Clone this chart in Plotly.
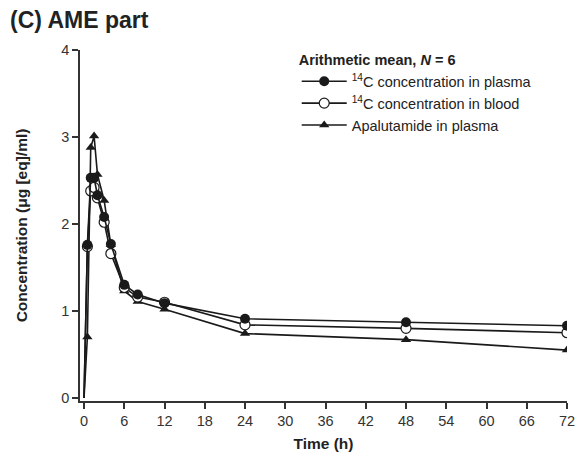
import plotly.graph_objects as go

time_h = [0, 0.5, 1, 1.5, 2, 3, 4, 6, 8, 12, 24, 48, 72]
c14_plasma = [0, 1.76, 2.53, 2.53, 2.33, 2.08, 1.77, 1.30, 1.19, 1.09, 0.91, 0.87, 0.83]
c14_blood = [0, 1.74, 2.38, 2.42, 2.30, 2.02, 1.66, 1.27, 1.16, 1.10, 0.84, 0.80, 0.75]
apalutamide = [0, 0.70, 2.88, 3.01, 2.57, 2.27, 1.76, 1.23, 1.11, 1.02, 0.74, 0.67, 0.55]

x_ticks = list(range(0, 73, 6))
y_ticks = [0, 1, 2, 3, 4]

FONT = "Arial, Liberation Sans, sans-serif"
LINE = dict(color="#1a1a1a", width=1.6)

# markers shown for every sample except the time-zero point
shown = list(range(1, len(time_h)))
hidden_zero = dict(marker=dict(opacity=0))

fig = go.Figure()
fig.add_trace(go.Scatter(
    x=time_h, y=apalutamide, mode="lines+markers", name="Apalutamide in plasma",
    line=LINE, marker=dict(symbol="triangle-up", size=9, color="#1a1a1a"),
    selectedpoints=shown, selected=dict(marker=dict(opacity=1)), unselected=hidden_zero,
))
fig.add_trace(go.Scatter(
    x=time_h, y=c14_blood, mode="lines+markers", name="<sup>14</sup>C concentration in blood",
    line=LINE, marker=dict(symbol="circle", size=10, color="white",
                           line=dict(color="#1a1a1a", width=1.2)),
    selectedpoints=shown, selected=dict(marker=dict(opacity=1)), unselected=hidden_zero,
))
fig.add_trace(go.Scatter(
    x=time_h, y=c14_plasma, mode="lines+markers", name="<sup>14</sup>C concentration in plasma",
    line=LINE, marker=dict(symbol="circle", size=10, color="#1a1a1a"),
    selectedpoints=shown, selected=dict(marker=dict(opacity=1)), unselected=hidden_zero,
))

axis_common = dict(
    showline=True, linecolor="#333333", linewidth=1.6,
    ticks="outside", ticklen=6, tickwidth=1.6, tickcolor="#333333",
    showgrid=False, zeroline=False,
    tickfont=dict(family=FONT, size=14.5, color="#333333"),
)

fig.update_layout(
    width=587, height=466,
    margin=dict(l=80, r=15, t=50, b=65),
    paper_bgcolor="white", plot_bgcolor="white",
    font=dict(family=FONT, color="#222222"),
    title=dict(text="<b>(C) AME part</b>", x=10/587, xanchor="left",
               y=1-20/466, yanchor="middle", font=dict(size=23, family=FONT, color="#222222")),
    showlegend=True,
    legend=dict(
        title=dict(text="<b>Arithmetic mean, <i>N</i> = 6</b>", font=dict(size=14.5, family=FONT)),
        x=0.445, xanchor="left", y=1.01, yanchor="top",
        traceorder="reversed",
        font=dict(size=14.5, family=FONT, color="#222222"),
        bgcolor="rgba(0,0,0,0)", itemwidth=45, tracegroupgap=0,
    ),
    xaxis=dict(range=[-0.6, 72], tickvals=x_ticks,
               title=dict(text="<b>Time (h)</b>", font=dict(size=15.5, family=FONT), standoff=10),
               **axis_common),
    yaxis=dict(range=[-0.035, 4], tickvals=y_ticks,
               title=dict(text="<b>Concentration (μg [eq]/ml)</b>", font=dict(size=15.5, family=FONT),
                          standoff=30),
               **axis_common),
)

fig.write_html("out.html")
